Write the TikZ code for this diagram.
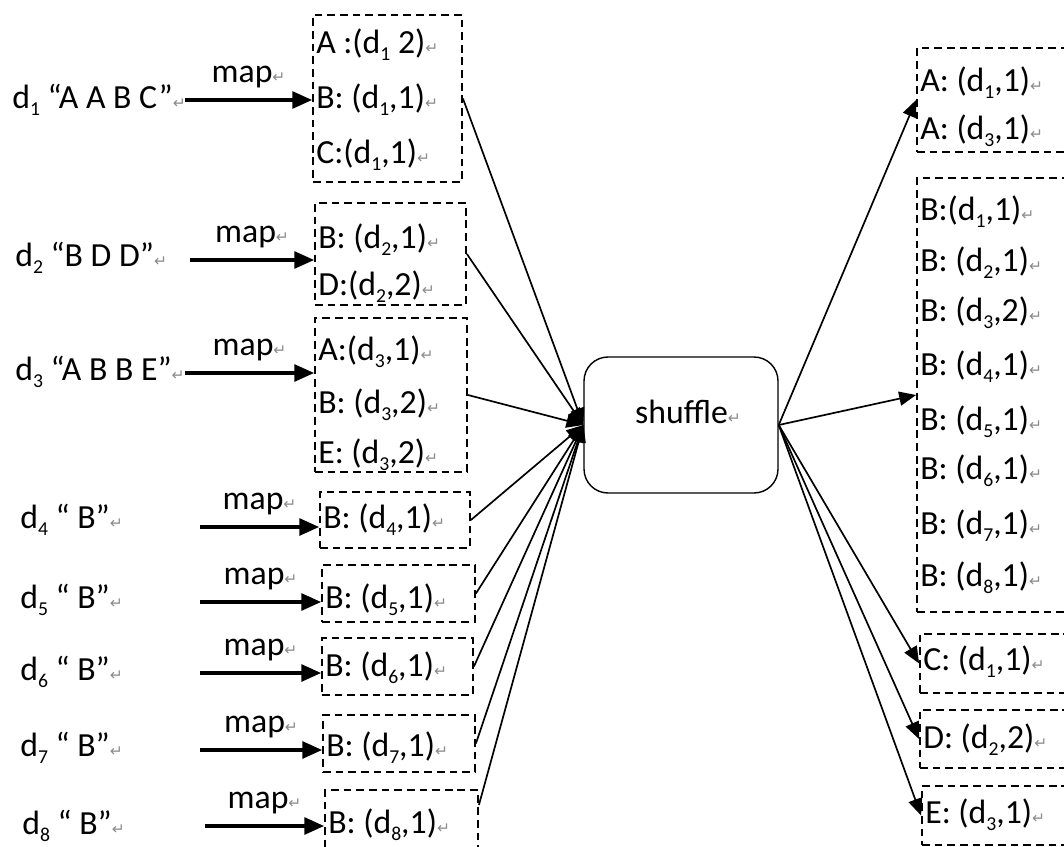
\documentclass[tikz,border=0pt]{standalone}
\usepackage{fontspec}
\setmainfont{Carlito}
\newfontfamily\retfont{DejaVu Sans}
\usepackage{tikz}
\usetikzlibrary{arrows.meta,fit}

\newcommand{\dsub}[1]{d\raisebox{-0.45ex}{\fontsize{14}{14}\selectfont #1}}
\newcommand{\retmark}{{\retfont\fontsize{11}{11}\selectfont\color{black!45}↵}}

\begin{document}
\begin{tikzpicture}[x=0.025cm,y=-0.025cm,>={Triangle[length=12pt,width=10pt]},
    font=\fontsize{24}{28}\selectfont]
  \tikzstyle{dbox}=[draw,dash pattern=on 5.5pt off 3.5pt,line width=1.3pt,inner sep=0pt]
  \tikzstyle{entry}=[anchor=west,inner sep=0pt]
  \tikzstyle{doc}=[anchor=west,inner sep=0pt]
  \tikzstyle{maparrow}=[-{Triangle[length=14pt,width=12pt]},line width=2.2pt]
  \tikzstyle{link}=[->,line width=1.2pt]

  \useasboundingbox (0,0) rectangle (1064,847);
  \clip (0,0) rectangle (1064,847);

  % documents
  \node[doc] (D1) at (12,100) {\dsub{1} “A A B C”\retmark};
  \node[doc] (D2) at (15,258) {\dsub{2} “B D D”\retmark};
  \node[doc] (D3) at (15,372) {\dsub{3} “A B B E”\retmark};
  \node[doc] (D4) at (20,520) {\dsub{4} “ B”\retmark};
  \node[doc] (D5) at (20,600) {\dsub{5} “ B”\retmark};
  \node[doc] (D6) at (20,672) {\dsub{6} “ B”\retmark};
  \node[doc] (D7) at (20,748) {\dsub{7} “ B”\retmark};
  \node[doc] (D8) at (22,826) {\dsub{8} “ B”\retmark};

  % map output boxes
  \node[dbox,fit={(313,15) (462,182)}] (L1) {};
  \node[dbox,fit={(315,203) (466,305)}] (L2) {};
  \node[dbox,fit={(315,318) (467,472)}] (L3) {};
  \node[dbox,fit={(320,492) (470,548)}] (L4) {};
  \node[dbox,fit={(322,565) (475,622)}] (L5) {};
  \node[dbox,fit={(322,638) (473,695)}] (L6) {};
  \node[dbox,fit={(323,715) (475,772)}] (L7) {};
  \node[dbox,fit={(325,790) (478,852)}] (L8) {};

  \node[entry] (L1-a) at (316,45) {A :(\dsub{1} 2)\retmark};
  \node[entry] (L1-b) at (316,100) {B: (\dsub{1},1)\retmark};
  \node[entry] (L1-c) at (316,155) {C:(\dsub{1},1)\retmark};
  \node[entry] (L2-b) at (318,240) {B: (\dsub{2},1)\retmark};
  \node[entry] (L2-d) at (318,287) {D:(\dsub{2},2)\retmark};
  \node[entry] (L3-a) at (318,352) {A:(\dsub{3},1)\retmark};
  \node[entry] (L3-b) at (318,405) {B: (\dsub{3},2)\retmark};
  \node[entry] (L3-e) at (318,455) {E: (\dsub{3},2)\retmark};
  \node[entry] (L4-b) at (323,520) {B: (\dsub{4},1)\retmark};
  \node[entry] (L5-b) at (325,600) {B: (\dsub{5},1)\retmark};
  \node[entry] (L6-b) at (325,668) {B: (\dsub{6},1)\retmark};
  \node[entry] (L7-b) at (326,748) {B: (\dsub{7},1)\retmark};
  \node[entry] (L8-b) at (328,825) {B: (\dsub{8},1)\retmark};

  % map arrows
  \coordinate (m1) at (185,100);
  \coordinate (m2) at (190,260);
  \coordinate (m3) at (185,373);
  \coordinate (m4) at (200,527);
  \coordinate (m5) at (200,602);
  \coordinate (m6) at (200,673);
  \coordinate (m7) at (200,750);
  \coordinate (m8) at (205,826);
  \draw[maparrow] (m1) -- (L1.west |- m1) node[midway,above=4pt] {map\retmark};
  \draw[maparrow] (m2) -- (L2.west |- m2) node[midway,above=4pt] {map\retmark};
  \draw[maparrow] (m3) -- (L3.west |- m3) node[midway,above=4pt] {map\retmark};
  \draw[maparrow] (m4) -- (L4.west |- m4) node[midway,above=4pt] {map\retmark};
  \draw[maparrow] (m5) -- (L5.west |- m5) node[midway,above=4pt] {map\retmark};
  \draw[maparrow] (m6) -- (L6.west |- m6) node[midway,above=4pt] {map\retmark};
  \draw[maparrow] (m7) -- (L7.west |- m7) node[midway,above=4pt] {map\retmark};
  \draw[maparrow] (m8) -- (L8.west |- m8) node[midway,above=4pt] {map\retmark};

  % shuffle
  \node[draw,line width=1pt,rounded corners=0.6cm,inner sep=0pt,
    fit={(584,357) (778,493)}] (sh) {};
  \node (sh-text) at (688,412) {shuffle\retmark};

  \draw[link] (L1.east) -- (sh.west);
  \draw[link] (L2.east) -- (sh.west);
  \draw[link] (L3.east) -- (sh.west);
  \draw[link] (L4.east) -- (sh.west);
  \draw[link] (L5.east) -- (sh.west);
  \draw[link] (L6.east) -- (sh.west);
  \draw[link] (L7.east) -- (sh.west);
  \draw[link] ([yshift=0.4cm]L8.east) -- (sh.west);

  % grouped output
  \node[dbox,fit={(917,48) (1080,152)}] (RA) {};
  \node[dbox,fit={(917,178) (1080,612)}] (RB) {};
  \node[dbox,fit={(920,634) (1080,693)}] (RC) {};
  \node[dbox,fit={(920,710) (1080,768)}] (RD) {};
  \node[dbox,fit={(922,786) (1080,845)}] (RE) {};

  \node[entry] (RA-1) at (920,83) {A: (\dsub{1},1)\retmark};
  \node[entry] (RA-3) at (920,131) {A: (\dsub{3},1)\retmark};
  \node[entry] (RB-1) at (920,212) {B:(\dsub{1},1)\retmark};
  \node[entry] (RB-2) at (920,263) {B: (\dsub{2},1)\retmark};
  \node[entry] (RB-3) at (920,313) {B: (\dsub{3},2)\retmark};
  \node[entry] (RB-4) at (920,367) {B: (\dsub{4},1)\retmark};
  \node[entry] (RB-5) at (920,422) {B: (\dsub{5},1)\retmark};
  \node[entry] (RB-6) at (920,471) {B: (\dsub{6},1)\retmark};
  \node[entry] (RB-7) at (920,526) {B: (\dsub{7},1)\retmark};
  \node[entry] (RB-8) at (920,578) {B: (\dsub{8},1)\retmark};
  \node[entry] (RC-1) at (923,662) {C: (\dsub{1},1)\retmark};
  \node[entry] (RD-2) at (923,740) {D: (\dsub{2},2)\retmark};
  \node[entry] (RE-3) at (925,815) {E: (\dsub{3},1)\retmark};

  \draw[link] (sh.east) -- (RA.west);
  \draw[link] (sh.east) -- (RB.west);
  \draw[link] (sh.east) -- (RC.west);
  \draw[link] (sh.east) -- (RD.west);
  \draw[link] (sh.east) -- (RE.west);
\end{tikzpicture}
\end{document}
